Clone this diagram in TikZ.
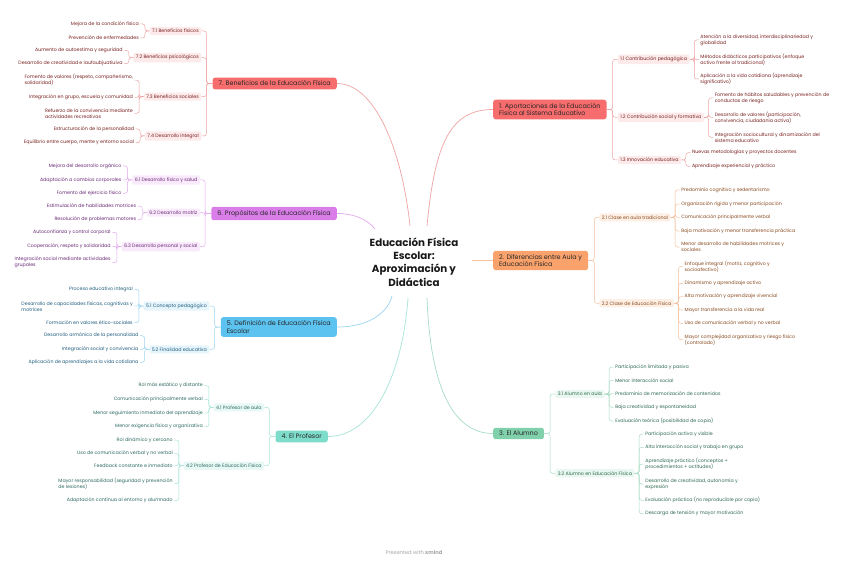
\documentclass[tikz,border=0pt]{standalone}
\usepackage{fontspec}
\setmainfont{Poppins}
\usetikzlibrary{calc}
\definecolor{redM}{HTML}{F76C6C}
\definecolor{redL}{HTML}{EFA3A3}
\definecolor{redS}{HTML}{FDEAEA}
\definecolor{redT}{HTML}{7A2020}
\definecolor{oraM}{HTML}{F9A26C}
\definecolor{oraL}{HTML}{F5C09C}
\definecolor{oraS}{HTML}{FEEFE4}
\definecolor{oraT}{HTML}{8A4A1E}
\definecolor{greM}{HTML}{80D0AC}
\definecolor{greL}{HTML}{A8DCC4}
\definecolor{greS}{HTML}{E9F7F0}
\definecolor{greT}{HTML}{2E6A50}
\definecolor{teaM}{HTML}{7EDCCB}
\definecolor{teaL}{HTML}{A6E4D8}
\definecolor{teaS}{HTML}{E8F8F5}
\definecolor{teaT}{HTML}{2C6A60}
\definecolor{bluM}{HTML}{5CC2F0}
\definecolor{bluL}{HTML}{9AD6F2}
\definecolor{bluS}{HTML}{E6F5FC}
\definecolor{bluT}{HTML}{1F5C7E}
\definecolor{purM}{HTML}{D97DE8}
\definecolor{purL}{HTML}{E3A8EE}
\definecolor{purS}{HTML}{F9EAFB}
\definecolor{purT}{HTML}{6B2A78}
\newcommand\SubL[4]{\node[sub,anchor=east] (#1) at ($(#2.west |- 0,-#3)+(-11,0)$) {#4};\draw[conn] (#2.west) -- ++(-6,0) |- (#1.east);}
\newcommand\SubR[4]{\node[sub,anchor=west] (#1) at ($(#2.east |- 0,-#3)+(11,0)$) {#4};\draw[conn] (#2.east) -- ++(6,0) |- (#1.west);}
\newcommand\LeafL[4]{\node[leaf,anchor=east] (#1) at ($(#2.west |- 0,-#3)+(-9,0)$) {#4};\draw[conn] (#2.west) -- ++(-4.5,0) |- (#1.east);}
\newcommand\LeafR[4]{\node[leaf,anchor=west] (#1) at ($(#2.east |- 0,-#3)+(9,0)$) {#4};\draw[conn] (#2.east) -- ++(4.5,0) |- (#1.west);}
\begin{document}
\begin{tikzpicture}[x=1pt,y=1pt,
  mainbox/.style={rounded corners=2.5pt, inner xsep=6pt, inner ysep=3.3pt, font=\fontsize{6.4}{7.8}\selectfont, text=black!85, align=left},
  sub/.style={rounded corners=2pt, inner xsep=2.5pt, inner ysep=2.2pt, font=\fontsize{4.75}{6}\selectfont},
  leaf/.style={inner xsep=1.5pt, inner ysep=1pt, font=\fontsize{4.75}{6}\selectfont, align=left},
  conn/.style={line width=.5pt, rounded corners=2.5pt},
  cc/.style={line width=.7pt}]
\useasboundingbox (0,0) rectangle (848,-564);
\fill[white] (0,0) rectangle (848,-564);
% centre
\node[font=\bfseries\fontsize{10.3}{13.3}\selectfont, align=center, text=black!90] (c) at (414,-262) {Educación Física\\Escolar:\\Aproximación y\\Didáctica};
\coordinate (e7) at (410,-226);
\coordinate (e1) at (427,-226);
\coordinate (e6) at (375,-229);
\coordinate (e5) at (392,-296);
\coordinate (e4) at (408,-298);
\coordinate (e3) at (427,-298);
\coordinate (e2) at (472,-260.5);
% main nodes
\node[mainbox, fill=redM, anchor=east] (m7) at (337,-83.5) {7. Beneficios de la Educación Física};
\node[mainbox, fill=purM, anchor=east] (m6) at (337,-213.5) {6. Propósitos de la Educación Física};
\node[mainbox, fill=bluM, anchor=east] (m5) at (337,-327) {5. Definición de Educación Física\\Escolar};
\node[mainbox, fill=teaM, anchor=east] (m4) at (328,-436.5) {4. El Profesor};
\node[mainbox, fill=redM, anchor=west] (m1) at (493,-109.5) {1. Aportaciones de la Educación\\Física al Sistema Educativo};
\node[mainbox, fill=oraM, anchor=west] (m2) at (493,-260.5) {2. Diferencias entre Aula y\\Educación Física};
\node[mainbox, fill=greM, anchor=west] (m3) at (493,-433.5) {3. El Alumno};
% centre connectors
\draw[cc, draw=redL] (m7.east) .. controls (375,-83.5) and (402,-150) .. (e7);
\draw[cc, draw=redL] (e1) .. controls (435,-140) and (452,-109.5) .. (m1.west);
\draw[cc, draw=purL] (m6.east) .. controls (355,-213.5) and (368,-220) .. (e6);
\draw[cc, draw=bluL] (m5.east) .. controls (370,-327) and (388,-312) .. (e5);
\draw[cc, draw=teaL] (m4.east) .. controls (375,-436.5) and (403,-370) .. (e4);
\draw[cc, draw=greL] (e3) .. controls (430,-380) and (450,-433.5) .. (m3.west);
\draw[cc, draw=oraL] (e2) -- (m2.west);
% branch 7
\begin{scope}[conn/.style={draw=redL, line width=.5pt, rounded corners=2.5pt}, sub/.append style={fill=redS, text=redT}, leaf/.append style={text=redT}]
\SubL{s71}{m7}{31}{7.1 Beneficios físicos}
\SubL{s72}{m7}{57.7}{7.2 Beneficios psicológicos}
\SubL{s73}{m7}{96.7}{7.3 Beneficios sociales}
\SubL{s74}{m7}{136}{7.4 Desarrollo integral}
\LeafL{l711}{s71}{24}{Mejora de la condición física}
\LeafL{l712}{s71}{38}{Prevención de enfermedades}
\LeafL{l721}{s72}{50.3}{Aumento de autoestima y seguridad}
\LeafL{l722}{s72}{63.7}{Desarrollo de creatividad e Iaufaubjuatiuiva}
\LeafL{l731}{s73}{80.2}{Fomento de valores (respeto, compañerismo,\\solidaridad)}
\LeafL{l732}{s73}{97.3}{Integración en grupo, escuela y comunidad}
\LeafL{l733}{s73}{113.3}{Refuerzo de la convivencia mediante\\actividades recreativas}
\LeafL{l741}{s74}{129}{Estructuración de la personalidad}
\LeafL{l742}{s74}{142.7}{Equilibrio entre cuerpo, mente y entorno social}
\end{scope}
% branch 6
\begin{scope}[conn/.style={draw=purL, line width=.5pt, rounded corners=2.5pt}, sub/.append style={fill=purS, text=purT}, leaf/.append style={text=purT}]
\SubL{s61}{m6}{180}{6.1 Desarrollo físico y salud}
\SubL{s62}{m6}{212.7}{6.2 Desarrollo motriz}
\SubL{s63}{m6}{246.7}{6.3 Desarrollo personal y social}
\LeafL{l611}{s61}{166}{Mejora del desarrollo orgánico}
\LeafL{l612}{s61}{180}{Adaptación a cambios corporales}
\LeafL{l613}{s61}{193.3}{Fomento del ejercicio físico}
\LeafL{l621}{s62}{206}{Estimulación de habilidades motrices}
\LeafL{l622}{s62}{219.7}{Resolución de problemas motores}
\LeafL{l631}{s63}{232.3}{Autoconfianza y control corporal}
\LeafL{l632}{s63}{246.3}{Cooperación, respeto y solidaridad}
\LeafL{l633}{s63}{262.7}{Integración social mediante actividades\\grupales}
\end{scope}
% branch 5
\begin{scope}[conn/.style={draw=bluL, line width=.5pt, rounded corners=2.5pt}, sub/.append style={fill=bluS, text=bluT}, leaf/.append style={text=bluT}]
\SubL{s51}{m5}{306}{5.1 Concepto pedagógico}
\SubL{s52}{m5}{349.3}{5.2 Finalidad educativa}
\LeafL{l511}{s51}{289.3}{Proceso educativo integral}
\LeafL{l512}{s51}{306.2}{Desarrollo de capacidades físicas, cognitivas y\\motrices}
\LeafL{l513}{s51}{322.7}{Formación en valores ético-sociales}
\LeafL{l521}{s52}{335.7}{Desarrollo armónico de la personalidad}
\LeafL{l522}{s52}{349.3}{Integración social y convivencia}
\LeafL{l523}{s52}{362.3}{Aplicación de aprendizajes a la vida cotidiana}
\end{scope}
% branch 4
\begin{scope}[conn/.style={draw=teaL, line width=.5pt, rounded corners=2.5pt}, sub/.append style={fill=teaS, text=teaT}, leaf/.append style={text=teaT}]
\SubL{s41}{m4}{407.3}{4.1 Profesor de aula}
\SubL{s42}{m4}{465.7}{4.2 Profesor de Educación Física}
\LeafL{l411}{s41}{385.7}{Rol más estático y distante}
\LeafL{l412}{s41}{399.3}{Comunicación principalmente verbal}
\LeafL{l413}{s41}{413}{Menor seguimiento inmediato del aprendizaje}
\LeafL{l414}{s41}{426.7}{Menor exigencia física y organizativa}
\LeafL{l421}{s42}{440}{Rol dinámico y cercano}
\LeafL{l422}{s42}{453.7}{Uso de comunicación verbal y no verbal}
\LeafL{l423}{s42}{465.7}{Feedback constante e inmediato}
\LeafL{l424}{s42}{483.7}{Mayor responsabilidad (seguridad y prevención\\de lesiones)}
\LeafL{l425}{s42}{500.7}{Adaptación continua al entorno y alumnado}
\end{scope}
% branch 1
\begin{scope}[conn/.style={draw=redL, line width=.5pt, rounded corners=2.5pt}, sub/.append style={fill=redS, text=redT}, leaf/.append style={text=redT}]
\SubR{s11}{m1}{59.3}{1.1 Contribución pedagógica}
\SubR{s12}{m1}{117.3}{1.2 Contribución social y formativa}
\SubR{s13}{m1}{160}{1.3 Innovación educativa}
\LeafR{l111}{s11}{40}{Atención a la diversidad, interdisciplinariedad y\\globalidad}
\LeafR{l112}{s11}{59.7}{Métodos didácticos participativos (enfoque\\activo frente al tradicional)}
\LeafR{l113}{s11}{79}{Aplicación a la vida cotidiana (aprendizaje\\significativo)}
\LeafR{l121}{s12}{98}{Fomento de hábitos saludables y prevención de\\conductas de riesgo}
\LeafR{l122}{s12}{117.3}{Desarrollo de valores (participación,\\convivencia, ciudadanía activa)}
\LeafR{l123}{s12}{137.3}{Integración sociocultural y dinamización del\\sistema educativo}
\LeafR{l131}{s13}{152.7}{Nuevas metodologías y proyectos docentes}
\LeafR{l132}{s13}{166.3}{Aprendizaje experiencial y práctico}
\end{scope}
% branch 2
\begin{scope}[conn/.style={draw=oraL, line width=.5pt, rounded corners=2.5pt}, sub/.append style={fill=oraS, text=oraT}, leaf/.append style={text=oraT}]
\SubR{s21}{m2}{217.3}{2.1 Clase en aula tradicional}
\SubR{s22}{m2}{303.3}{2.2 Clase de Educación Física}
\LeafR{l211}{s21}{190}{Predominio cognitivo y sedentarismo}
\LeafR{l212}{s21}{204}{Organización rígida y menor participación}
\LeafR{l213}{s21}{217.3}{Comunicación principalmente verbal}
\LeafR{l214}{s21}{231}{Baja motivación y menor transferencia práctica}
\LeafR{l215}{s21}{247}{Menor desarrollo de habilidades motrices y\\sociales}
\LeafR{l221}{s22}{266.3}{Enfoque integral (motriz, cognitivo y\\socioafectivo)}
\LeafR{l222}{s22}{283.3}{Dinamismo y aprendizaje activo}
\LeafR{l223}{s22}{296.7}{Alta motivación y aprendizaje vivencial}
\LeafR{l224}{s22}{310}{Mayor transferencia a la vida real}
\LeafR{l225}{s22}{323.3}{Uso de comunicación verbal y no verbal}
\LeafR{l226}{s22}{339.7}{Mayor complejidad organizativa y riesgo físico\\(controlado)}
\end{scope}
% branch 3
\begin{scope}[conn/.style={draw=greL, line width=.5pt, rounded corners=2.5pt}, sub/.append style={fill=greS, text=greT}, leaf/.append style={text=greT}]
\SubR{s31}{m3}{394}{3.1 Alumno en aula}
\SubR{s32}{m3}{473.3}{3.2 Alumno en Educación Física}
\LeafR{l311}{s31}{367}{Participación limitada y pasiva}
\LeafR{l312}{s31}{380.3}{Menor interacción social}
\LeafR{l313}{s31}{393.7}{Predominio de memorización de contenidos}
\LeafR{l314}{s31}{407.3}{Baja creatividad y espontaneidad}
\LeafR{l315}{s31}{421}{Evaluación teórica (posibilidad de copia)}
\LeafR{l321}{s32}{434}{Participación activa y visible}
\LeafR{l322}{s32}{447.3}{Alta interacción social y trabajo en grupo}
\LeafR{l323}{s32}{464}{Aprendizaje práctico (conceptos +\\procedimientos + actitudes)}
\LeafR{l324}{s32}{484}{Desarrollo de creatividad, autonomía y\\expresión}
\LeafR{l325}{s32}{500.3}{Evaluación práctica (no reproducible por copia)}
\LeafR{l326}{s32}{513.7}{Descarga de tensión y mayor motivación}
\end{scope}
\node[font=\fontsize{5.2}{6}\selectfont, text=black!35] (ft) at (414,-552) {Presented with \textbf{xmind}};
\end{tikzpicture}
\end{document}
